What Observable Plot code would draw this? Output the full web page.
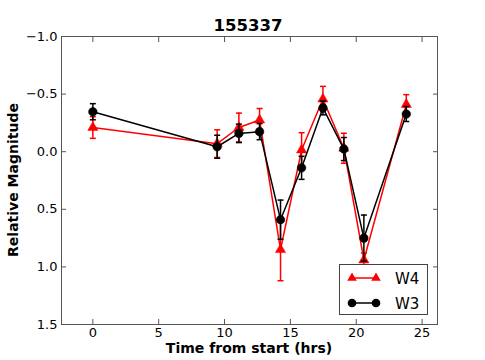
<!DOCTYPE html>
<html><head><meta charset="utf-8">
<script src="https://cdn.jsdelivr.net/npm/d3@7"></script>
<script src="https://cdn.jsdelivr.net/npm/@observablehq/plot@0.6"></script>
<style>
body{margin:0;background:#fff;font-family:"DejaVu Sans",sans-serif;}
#wrap{position:relative;width:485px;height:360px;}
#title{position:absolute;left:0;width:496px;top:16px;text-align:center;font-weight:bold;font-size:16.5px;}
#legend{position:absolute;left:339px;top:264px;width:89px;height:51px;border:1px solid #444;background:#fff;box-sizing:border-box;}
</style></head>
<body><div id="wrap"><div id="title">155337</div><div id="chart"></div><div id="legend"></div></div>
<script>
const times = [0, 9.44, 11.09, 12.66, 14.25, 15.85, 17.47, 19.06, 20.58, 23.8];
const w4 = [-0.21, -0.07, -0.21, -0.275, 0.85, -0.015, -0.457, -0.03, 0.94, -0.41];
const w4err = [0.094, 0.12, 0.125, 0.1, 0.27, 0.15, 0.11, 0.13, 0.06, 0.085];
const w3 = [-0.347, -0.043, -0.159, -0.174, 0.59, 0.14, -0.38, -0.023, 0.75, -0.327];
const w3err = [0.07, 0.1, 0.08, 0.07, 0.17, 0.1, 0.06, 0.1, 0.2, 0.065];
const xTicks = [0, 5, 10, 15, 20, 25];
const yTicks = [-1.0, -0.5, 0.0, 0.5, 1.0, 1.5];
const seriesNames = ["W4", "W3"];
const seriesColors = ["#ff0000", "#000000"];

const mk = (vals, errs) => times.map((t, i) => ({t, m: vals[i], lo: vals[i] - errs[i], hi: vals[i] + errs[i]}));
const d4 = mk(w4, w4err), d3s = mk(w3, w3err);
const cap = {draw(ctx){ ctx.moveTo(-3,0); ctx.lineTo(3,0); }};

function series(data, color, symbol) {
  return [
    Plot.ruleX(data, {x: "t", y1: "lo", y2: "hi", stroke: color, strokeWidth: 1.5}),
    Plot.dot(data, {x: "t", y: "lo", symbol: cap, stroke: color, strokeWidth: 1.5, r: 3}),
    Plot.dot(data, {x: "t", y: "hi", symbol: cap, stroke: color, strokeWidth: 1.5, r: 3}),
    Plot.line(data, {x: "t", y: "m", stroke: color, strokeWidth: 1.5}),
    Plot.dot(data, {x: "t", y: "m", symbol, fill: color, stroke: color, strokeWidth: 0.5, r: symbol === "triangle" ? 3.8 : 4.3})
  ];
}

const chart = Plot.plot({
  width: 485, height: 360,
  marginLeft: 61, marginRight: 48, marginTop: 36, marginBottom: 36,
  style: {fontFamily: "DejaVu Sans, sans-serif", fontSize: "13px", color: "#000", background: "#fff"},
  x: {domain: [-2.38, 26.17]},
  y: {domain: [-1.0, 1.5], reverse: true},
  marks: [
    Plot.axisX({ticks: xTicks, tickSize: 0, tickPadding: 3, tickFormat: d3.format("d"), label: null}),
    Plot.axisX({ticks: xTicks, tickSize: -5, text: null, label: null, stroke: "#555"}),
    Plot.axisX({ticks: xTicks, anchor: "top", tickSize: -5, text: null, label: null, stroke: "#555"}),
    Plot.axisY({ticks: yTicks, tickSize: 0, tickPadding: 4, tickFormat: d3.format(".1f"), label: null}),
    Plot.axisY({ticks: yTicks, tickSize: -5, text: null, label: null, stroke: "#555"}),
    Plot.axisY({ticks: yTicks, anchor: "right", tickSize: -5, text: null, label: null, stroke: "#555"}),
    Plot.frame({stroke: "#555"}),
    ...series(d4, seriesColors[0], "triangle"),
    ...series(d3s, seriesColors[1], "circle")
  ]
});
const svg = d3.select(chart);
svg.append("text").attr("x", 249).attr("y", 353).attr("text-anchor", "middle")
  .attr("font-weight", "bold").attr("font-size", 14).text("Time from start (hrs)");
svg.append("text").attr("transform", "translate(18,180) rotate(-90)").attr("text-anchor", "middle")
  .attr("font-weight", "bold").attr("font-size", 14).text("Relative Magnitude");
document.getElementById("chart").appendChild(chart);

// legend
const leg = d3.select("#legend").append("svg").attr("width", 89).attr("height", 51);
const sym = [d3.symbolTriangle, d3.symbolCircle];
seriesNames.forEach((name, i) => {
  const y = 13 + i * 25;
  const g = leg.append("g");
  g.append("line").attr("x1", 12).attr("x2", 36).attr("y1", y).attr("y2", y).attr("stroke", seriesColors[i]).attr("stroke-width", 1.5);
  [12, 36].forEach(x => g.append("path").attr("d", d3.symbol(sym[i], i === 0 ? 40 : 58)()).attr("transform", `translate(${x},${y})`).attr("fill", seriesColors[i]));
  leg.append("text").attr("x", 55).attr("y", y + 6).attr("font-size", 15).attr("font-family", "DejaVu Sans").text(name);
});
</script></body></html>
